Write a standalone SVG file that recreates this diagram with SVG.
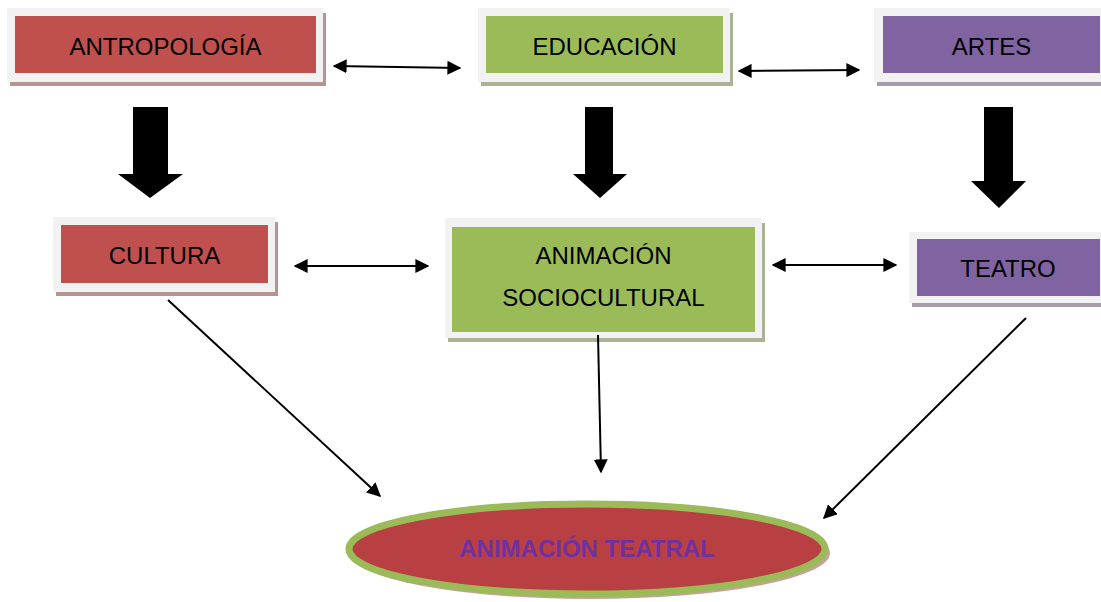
<svg xmlns="http://www.w3.org/2000/svg" width="1101" height="602" viewBox="0 0 1101 602">
<defs>
<style>
.frame{fill:#f2f2f2}
.red{fill:#c0504d}
.green{fill:#9bbb59}
.purple{fill:#8064a2}
.shr{fill:#b79393}
.shg{fill:#a9b294}
.shp{fill:#a49cab}
.lbl{font-family:"Liberation Sans",Arial,sans-serif;font-size:24px;fill:#000;text-anchor:middle}
.conn{stroke:#000;stroke-width:2;fill:none}
.block{fill:#000}
</style>
<marker id="ah" viewBox="0 0 10 10" refX="9" refY="5" markerWidth="7" markerHeight="7" markerUnits="strokeWidth" orient="auto-start-reverse">
<path d="M0,0 L10,5 L0,10 z" fill="#000"/>
</marker>
</defs>
<rect width="1101" height="602" fill="#fff"/>

<g id="antropologia">
<rect class="shr" x="10" y="13" width="316" height="73"/>
<rect class="frame" x="7" y="8" width="316" height="74"/>
<rect class="red" x="15" y="16" width="301" height="57"/>
<text class="lbl" x="165.5" y="55">ANTROPOLOGÍA</text>
</g>

<g id="educacion">
<rect class="shg" x="481" y="13" width="252" height="73"/>
<rect class="frame" x="478" y="8" width="252" height="74"/>
<rect class="green" x="486" y="16" width="237" height="57"/>
<text class="lbl" x="604.5" y="55">EDUCACIÓN</text>
</g>

<g id="artes">
<rect class="shp" x="877" y="13" width="240" height="73"/>
<rect class="frame" x="874" y="8" width="240" height="74"/>
<rect class="purple" x="883" y="16" width="217" height="57"/>
<text class="lbl" x="991.5" y="55">ARTES</text>
</g>

<g id="cultura">
<rect class="shr" x="56" y="222" width="222" height="74"/>
<rect class="frame" x="53" y="217" width="222" height="75"/>
<rect class="red" x="61" y="225" width="207" height="58"/>
<text class="lbl" x="164.5" y="264">CULTURA</text>
</g>

<g id="animacion-sociocultural">
<rect class="shg" x="448" y="223" width="317" height="119"/>
<rect class="frame" x="445" y="218" width="317" height="120"/>
<rect class="green" x="452" y="227" width="303" height="105"/>
<text class="lbl" x="603.5" y="264">ANIMACIÓN</text>
<text class="lbl" x="603.5" y="306">SOCIOCULTURAL</text>
</g>

<g id="teatro">
<rect class="shp" x="912" y="237" width="200" height="70"/>
<rect class="frame" x="909" y="232" width="200" height="71"/>
<rect class="purple" x="917" y="239" width="183" height="57"/>
<text class="lbl" x="1008" y="277">TEATRO</text>
</g>

<g id="animacion-teatral">
<ellipse cx="590" cy="553" rx="240" ry="46" fill="#c9a0a0"/>
<ellipse cx="587" cy="549" rx="238" ry="45" fill="#b94042" stroke="#9bbb59" stroke-width="7"/>
<text x="587" y="557" font-family="'Liberation Sans',Arial,sans-serif" font-size="24" font-weight="bold" fill="#7030a0" text-anchor="middle">ANIMACIÓN TEATRAL</text>
</g>

<g id="connectors">
<line class="conn" x1="334" y1="66" x2="460" y2="68" marker-start="url(#ah)" marker-end="url(#ah)"/>
<line class="conn" x1="739" y1="71" x2="859" y2="70" marker-start="url(#ah)" marker-end="url(#ah)"/>
<line class="conn" x1="295" y1="266" x2="428" y2="266" marker-start="url(#ah)" marker-end="url(#ah)"/>
<line class="conn" x1="773" y1="265" x2="896" y2="265" marker-start="url(#ah)" marker-end="url(#ah)"/>
<line class="conn" x1="168" y1="300" x2="380" y2="496" marker-end="url(#ah)"/>
<line class="conn" x1="598" y1="335" x2="601" y2="472" marker-end="url(#ah)"/>
<line class="conn" x1="1026" y1="318" x2="824" y2="518" marker-end="url(#ah)"/>
<polygon class="block" points="133,107 168,107 168,174 183,174 150,198 118,174 133,174"/>
<polygon class="block" points="585,107 613,107 613,174 627,174 600,198 573,174 585,174"/>
<polygon class="block" points="984,107 1013,107 1013,181 1026,181 999,208 971,181 984,181"/>
</g>
</svg>
